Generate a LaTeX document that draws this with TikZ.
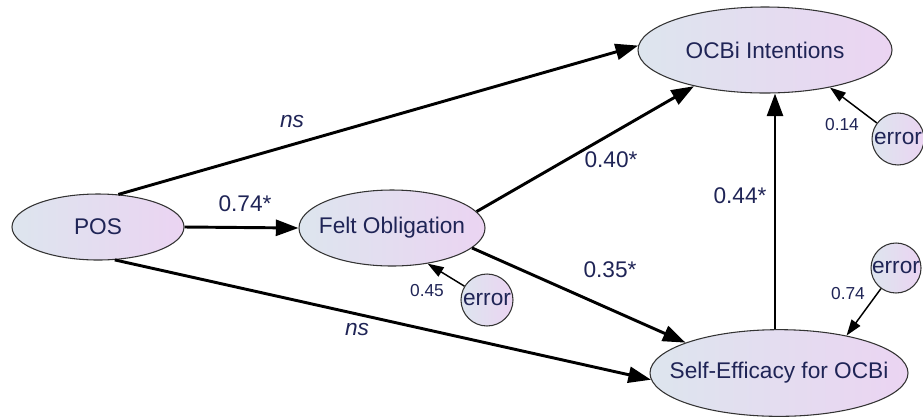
\documentclass[tikz,border=0pt]{standalone}
\usepackage{fontspec}
\setmainfont{Liberation Sans}
\usetikzlibrary{shapes.geometric,arrows.meta}

\definecolor{inkblue}{HTML}{1F2456}
\definecolor{fillleft}{HTML}{DDE5EE}
\definecolor{fillright}{HTML}{EBD4F2}
\definecolor{rimgray}{HTML}{333333}

% zero-width label box, so the ellipse size is set by minimum width/height only
\newcommand\flatlabel[1]{\makebox[0pt]{#1}}

\tikzset{
  latent/.style={ellipse, draw=rimgray, line width=0.8pt,
    left color=fillleft, right color=fillright,
    text=inkblue, font=\fontsize{17}{20}\selectfont, inner sep=0pt},
  errnode/.style={circle, draw=rimgray, line width=0.8pt,
    left color=fillleft, right color=fillright,
    minimum size=39pt, inner sep=0pt,
    text=inkblue, font=\fontsize{17}{20}\selectfont},
  pathcoef/.style={line width=2.2pt, -{Triangle[length=17pt,width=12pt]}},
  errpath/.style={line width=1.1pt, -{Triangle[length=12pt,width=8pt]}},
  coef/.style={text=inkblue, font=\fontsize{17}{20}\selectfont, inner sep=1pt},
  nscoef/.style={coef, font=\fontsize{17}{20}\selectfont\itshape},
  varcoef/.style={text=inkblue, font=\fontsize{13}{15}\selectfont, inner sep=1pt}
}

\begin{document}
\begin{tikzpicture}[x=0.75pt, y=-0.75pt]
\useasboundingbox (0,0) rectangle (923,419);

% latent variables
\node[latent, minimum width=129pt, minimum height=49.5pt] (pos) at (98,227) {\flatlabel{POS}};
\node[latent, minimum width=139.5pt, minimum height=57pt] (felt) at (392,228) {\flatlabel{Felt Obligation}};
\node[latent, minimum width=190.5pt, minimum height=64.5pt] (ocbi) at (765,50) {\flatlabel{OCBi Intentions}};
\node[latent, minimum width=193.5pt, minimum height=65pt] (self) at (779,373) {\flatlabel{Self-Efficacy for OCBi}};

% disturbance terms
\node[errnode] (e1) at (487,300) {error};
\node[errnode, minimum size=37.5pt] (e2) at (896,268) {error};
\node[errnode] (e3) at (898,139) {error};

% structural paths
\draw[pathcoef] (pos.58) -- (ocbi.178);
\draw[pathcoef] (pos.east) -- (felt.west);
\draw[pathcoef] (pos.-63) -- (self.183);
\draw[pathcoef] (felt.11) -- (ocbi.207);
\draw[pathcoef] (felt.-14) -- (self.162);
\draw[pathcoef] ([xshift=-3pt]self.north) -- ([xshift=7.5pt]ocbi.south);

% error paths
\draw[errpath] (e1) -- (felt.-45);
\draw[errpath] (e2) -- (self.29);
\draw[errpath] (e3) -- (ocbi.-30);

% path coefficients
\node[nscoef] (lns1) at (292,122) {ns};
\node[coef] (l074) at (245,204) {0.74*};
\node[nscoef] (lns2) at (357,330) {ns};
\node[coef] (l040) at (611,160) {0.40*};
\node[coef] (l035) at (610,270) {0.35*};
\node[coef] (l044) at (740,196) {0.44*};

% explained variance
\node[varcoef] (r045) at (427,291) {0.45};
\node[varcoef] (r074) at (848,294) {0.74};
\node[varcoef] (r014) at (842,125) {0.14};
\end{tikzpicture}
\end{document}
